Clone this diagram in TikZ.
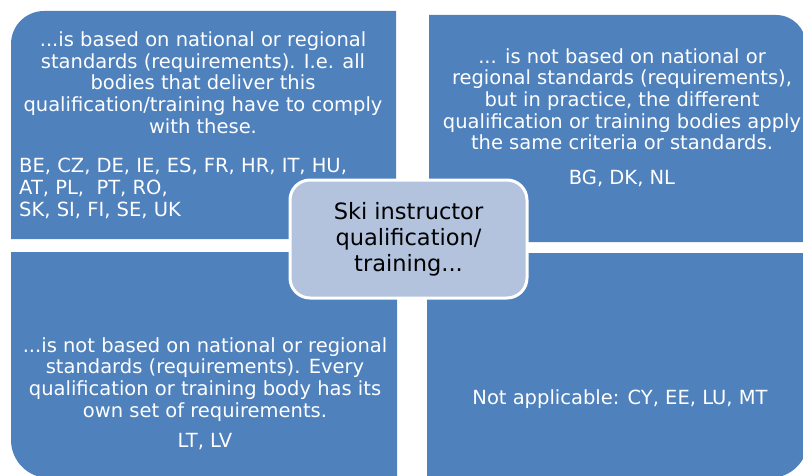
\documentclass[tikz,border=0pt]{standalone}
\usepackage{fontspec}
\setmainfont{DejaVu Sans}
\usetikzlibrary{positioning}
\definecolor{quadblue}{HTML}{4F81BD}
\definecolor{hubblue}{HTML}{B3C3DE}
\begin{document}
\begin{tikzpicture}[x=1pt, y=1pt, node distance=12pt,
	quad/.style={fill=quadblue},
	quadtext/.style={text=white, align=center, inner sep=0pt, font=\fontsize{19.5}{21.7}\selectfont},
	hub/.style={draw=white, line width=3pt, fill=hubblue, rounded corners=20pt, minimum width=237pt, minimum height=118pt, align=center, text=black, font=\fontsize{22.5}{26}\selectfont}]
		\useasboundingbox (0,0) rectangle (803,475);
		\clip (0,0) rectangle (803,475);
		
		% the four quadrants, one rounded outer corner each
		\fill[quad] (11,236) -- (11,431) arc[start angle=180, end angle=90, radius=33] -- (396,464) -- (396,236) -- cycle;
		\fill[quad] (429,233) -- (429,460) -- (776,460) arc[start angle=90, end angle=0, radius=30] -- (806,233) -- cycle;
		\fill[quad] (11,223) -- (11,35) arc[start angle=180, end angle=270, radius=38] -- (397,-3) -- (397,223) -- cycle;
		\fill[quad] (427,222) -- (427,-3) -- (770,-3) arc[start angle=270, end angle=360, radius=38] -- (808,222) -- cycle;
		
		\node[quadtext, anchor=north] (tlpara) at (203,443.5) {...is based on national or regional\\standards (requirements). I.e. all\\bodies that deliver this\\qualification/training have to comply\\with these.};
		\node[quadtext, anchor=north west, align=left] (tllist) at (19,317) {BE, CZ, DE, IE, ES, FR, HR, IT, HU,\\AT, PL,\ \ PT, RO,\\SK, SI, FI, SE, UK};
		
		\node[quadtext, anchor=north] (trpara) at (622,427) {... is not based on national or\\regional standards (requirements),\\but in practice, the different\\qualification or training bodies apply\\the same criteria or standards.};
		\node[quadtext, below=20pt of trpara] (trlist) {BG, DK, NL};
		
		\node[quadtext, anchor=north] (blpara) at (205,138) {...is not based on national or regional\\standards (requirements). Every\\qualification or training body has its\\own set of requirements.};
		\node[quadtext, below=12pt of blpara] (bllist) {LT, LV};
		
		\node[quadtext, anchor=base] (brtext) at (620,71) {Not applicable: CY, EE, LU, MT};
		
		\node[hub] (hub) at (408.5,236) {Ski instructor\\qualification/\\training...};
	\end{tikzpicture}
\end{document}
